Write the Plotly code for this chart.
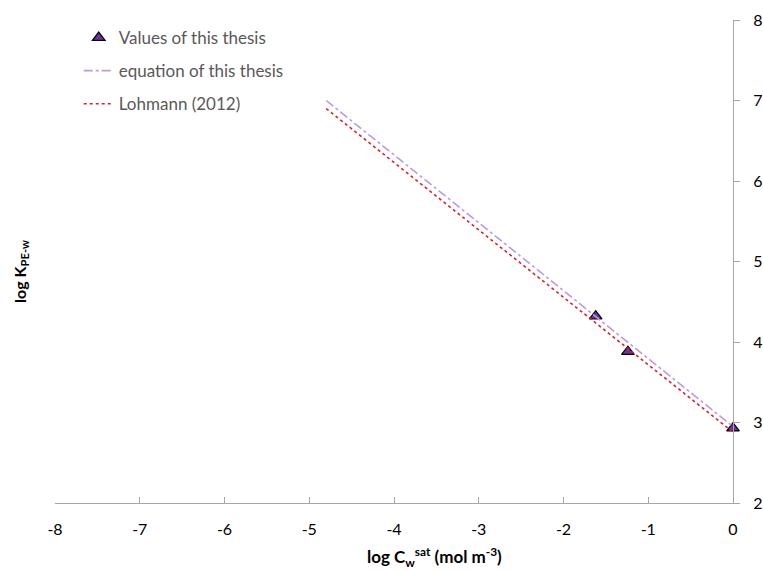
import plotly.graph_objects as go

# Data
pts_x = [-1.62, -1.24, 0.0]
pts_y = [4.32, 3.88, 2.93]

eq_x = [-4.8, 0.0]
eq_y = [7.0, 2.95]

loh_x = [-4.8, 0.0]
loh_y = [6.9, 2.88]

x_ticks = [-8, -7, -6, -5, -4, -3, -2, -1, 0]
x_labels = ["-8", "-7", "-6", "-5", "-4", "-3", "-2", "-1", "0"]
y_ticks = [2, 3, 4, 5, 6, 7, 8]
y_labels = ["2", "3", "4", "5", "6", "7", "8"]

FONT = "Lato, 'Open Sans', sans-serif"

fig = go.Figure()
fig.add_trace(go.Scatter(
    x=pts_x, y=pts_y, mode="markers", name="Values of this thesis",
    legendgroup="a", cliponaxis=False,
    marker=dict(symbol="triangle-up", size=11, color="#7030a0",
                line=dict(color="black", width=1.2)),
))
fig.add_trace(go.Scatter(
    x=eq_x, y=eq_y, mode="lines", name="equation of this thesis",
    legendgroup="b",
    line=dict(color="#b99ae6", width=1.6, dash="dashdot"),
))
fig.add_trace(go.Scatter(
    x=loh_x, y=loh_y, mode="lines", name="Lohmann (2012)",
    legendgroup="c",
    line=dict(color="#e02020", width=1.6, dash="dot"),
))

fig.update_layout(
    width=763, height=571,
    margin=dict(l=55, r=30, t=20, b=68),
    paper_bgcolor="white", plot_bgcolor="white",
    font=dict(family=FONT, size=16, color="black"),
    legend=dict(x=0.035, y=1.0, xanchor="left", yanchor="top",
                font=dict(size=17, color="#595959"),
                tracegroupgap=8, bgcolor="rgba(0,0,0,0)"),
    xaxis=dict(range=[-8, 0], tickvals=x_ticks, ticktext=x_labels,
               showgrid=False, zeroline=False, automargin=False,
               showline=True, linecolor="#a6a6a6", linewidth=1,
               ticks="inside", ticklen=6, tickcolor="#a6a6a6",
               ticklabelstandoff=12,
               tickfont=dict(size=16, color="black")),
    yaxis=dict(range=[2, 8], tickvals=y_ticks, ticktext=y_labels, side="right",
               showgrid=False, zeroline=False, showline=True, automargin=False,
               linecolor="#a6a6a6", linewidth=1,
               ticks="outside", ticklen=6, tickcolor="#a6a6a6",
               ticklabelstandoff=10,
               tickfont=dict(size=16, color="black")),
    annotations=[
        dict(text="<b>log K<sub>PE-w</sub></b>", xref="paper", yref="paper",
             x=-0.052, y=0.48, textangle=-90, showarrow=False,
             xanchor="center", yanchor="middle",
             font=dict(size=16, color="black")),
        dict(text="<b>log C<sub>w</sub><sup>sat</sup> (mol m<sup>-3</sup>)</b>",
             xref="paper", yref="paper", x=0.56, y=-0.112,
             xanchor="center", yanchor="middle", showarrow=False,
             font=dict(size=17, color="black")),
    ],
)

fig.write_html("out.html")
